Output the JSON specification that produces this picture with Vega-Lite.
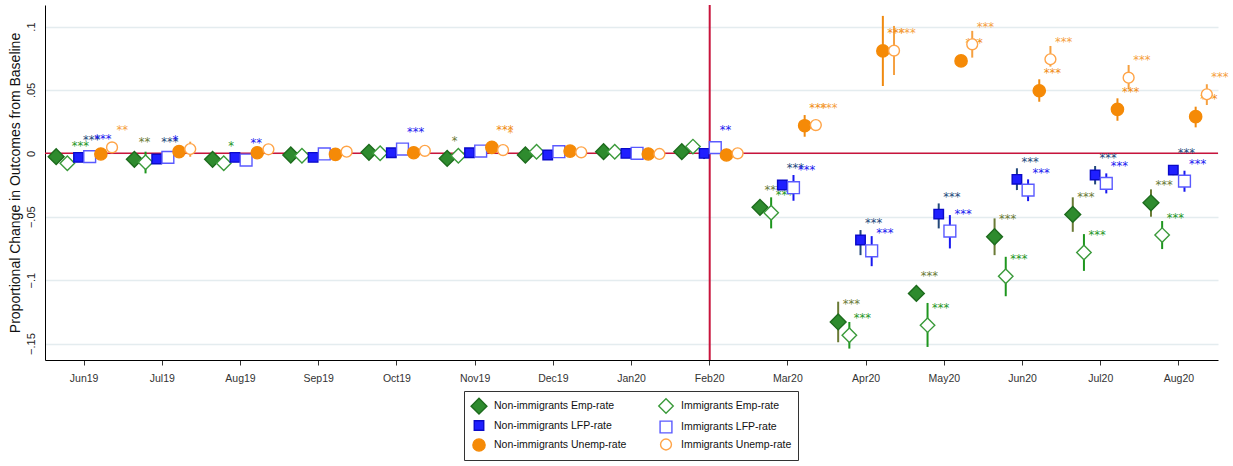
{
  "$schema": "https://vega.github.io/schema/vega-lite/v6.json",
  "width": 1173,
  "height": 355,
  "autosize": {"type": "none"},
  "padding": {"left": 45, "top": 5, "right": 15, "bottom": 106},
  "background": "white",
  "config": {"view": {"stroke": null}, "font": "Liberation Sans"},
  "data": {"name": "est"},
  "datasets": {
    "est": [
      {"m":"Jun19","s":"Non-immigrants Emp-rate","b":-0.0026,"lo":-0.0056,"hi":0.0004,"st":""},
      {"m":"Jun19","s":"Immigrants Emp-rate","b":-0.0079,"lo":-0.0109,"hi":-0.0049,"st":"***"},
      {"m":"Jun19","s":"Non-immigrants LFP-rate","b":-0.0032,"lo":-0.0050,"hi":-0.0014,"st":"***"},
      {"m":"Jun19","s":"Immigrants LFP-rate","b":-0.0026,"lo":-0.0046,"hi":-0.0006,"st":"***"},
      {"m":"Jun19","s":"Non-immigrants Unemp-rate","b":-0.0005,"lo":-0.0035,"hi":0.0025,"st":""},
      {"m":"Jun19","s":"Immigrants Unemp-rate","b":0.0047,"lo":0.0012,"hi":0.0082,"st":"**"},
      {"m":"Jul19","s":"Non-immigrants Emp-rate","b":-0.0047,"lo":-0.0072,"hi":-0.0022,"st":"**"},
      {"m":"Jul19","s":"Immigrants Emp-rate","b":-0.0071,"lo":-0.0158,"hi":0.0013,"st":""},
      {"m":"Jul19","s":"Non-immigrants LFP-rate","b":-0.0045,"lo":-0.0062,"hi":-0.0028,"st":"***"},
      {"m":"Jul19","s":"Immigrants LFP-rate","b":-0.0032,"lo":-0.0060,"hi":-0.0004,"st":"*"},
      {"m":"Jul19","s":"Non-immigrants Unemp-rate","b":0.0013,"lo":-0.0017,"hi":0.0043,"st":""},
      {"m":"Jul19","s":"Immigrants Unemp-rate","b":0.0034,"lo":-0.0027,"hi":0.0092,"st":""},
      {"m":"Aug19","s":"Non-immigrants Emp-rate","b":-0.0047,"lo":-0.0077,"hi":-0.0017,"st":""},
      {"m":"Aug19","s":"Immigrants Emp-rate","b":-0.0079,"lo":-0.0109,"hi":-0.0049,"st":"*"},
      {"m":"Aug19","s":"Non-immigrants LFP-rate","b":-0.0032,"lo":-0.0052,"hi":-0.0012,"st":""},
      {"m":"Aug19","s":"Immigrants LFP-rate","b":-0.0053,"lo":-0.0080,"hi":-0.0026,"st":"**"},
      {"m":"Aug19","s":"Non-immigrants Unemp-rate","b":0.0005,"lo":-0.0025,"hi":0.0035,"st":""},
      {"m":"Aug19","s":"Immigrants Unemp-rate","b":0.0032,"lo":0.0002,"hi":0.0062,"st":""},
      {"m":"Sep19","s":"Non-immigrants Emp-rate","b":-0.0013,"lo":-0.0043,"hi":0.0017,"st":""},
      {"m":"Sep19","s":"Immigrants Emp-rate","b":-0.0019,"lo":-0.0049,"hi":0.0011,"st":""},
      {"m":"Sep19","s":"Non-immigrants LFP-rate","b":-0.0032,"lo":-0.0062,"hi":-0.0002,"st":""},
      {"m":"Sep19","s":"Immigrants LFP-rate","b":-0.0005,"lo":-0.0035,"hi":0.0025,"st":""},
      {"m":"Sep19","s":"Non-immigrants Unemp-rate","b":-0.0008,"lo":-0.0038,"hi":0.0022,"st":""},
      {"m":"Sep19","s":"Immigrants Unemp-rate","b":0.0013,"lo":-0.0017,"hi":0.0043,"st":""},
      {"m":"Oct19","s":"Non-immigrants Emp-rate","b":0.0008,"lo":-0.0022,"hi":0.0038,"st":""},
      {"m":"Oct19","s":"Immigrants Emp-rate","b":0.0,"lo":-0.0030,"hi":0.0030,"st":""},
      {"m":"Oct19","s":"Non-immigrants LFP-rate","b":0.0005,"lo":-0.0025,"hi":0.0035,"st":""},
      {"m":"Oct19","s":"Immigrants LFP-rate","b":0.0034,"lo":0.0014,"hi":0.0054,"st":"***"},
      {"m":"Oct19","s":"Non-immigrants Unemp-rate","b":0.0005,"lo":-0.0025,"hi":0.0035,"st":""},
      {"m":"Oct19","s":"Immigrants Unemp-rate","b":0.0020,"lo":-0.0010,"hi":0.0050,"st":""},
      {"m":"Nov19","s":"Non-immigrants Emp-rate","b":-0.0040,"lo":-0.0075,"hi":-0.0005,"st":"*"},
      {"m":"Nov19","s":"Immigrants Emp-rate","b":-0.0019,"lo":-0.0049,"hi":0.0011,"st":""},
      {"m":"Nov19","s":"Non-immigrants LFP-rate","b":0.0005,"lo":-0.0025,"hi":0.0035,"st":""},
      {"m":"Nov19","s":"Immigrants LFP-rate","b":0.0018,"lo":-0.0012,"hi":0.0048,"st":""},
      {"m":"Nov19","s":"Non-immigrants Unemp-rate","b":0.0047,"lo":0.0027,"hi":0.0067,"st":"***"},
      {"m":"Nov19","s":"Immigrants Unemp-rate","b":0.0026,"lo":0.0001,"hi":0.0051,"st":"*"},
      {"m":"Dec19","s":"Non-immigrants Emp-rate","b":-0.0013,"lo":-0.0043,"hi":0.0017,"st":""},
      {"m":"Dec19","s":"Immigrants Emp-rate","b":0.0013,"lo":-0.0017,"hi":0.0043,"st":""},
      {"m":"Dec19","s":"Non-immigrants LFP-rate","b":-0.0013,"lo":-0.0043,"hi":0.0017,"st":""},
      {"m":"Dec19","s":"Immigrants LFP-rate","b":0.0013,"lo":-0.0017,"hi":0.0043,"st":""},
      {"m":"Dec19","s":"Non-immigrants Unemp-rate","b":0.0018,"lo":-0.0012,"hi":0.0048,"st":""},
      {"m":"Dec19","s":"Immigrants Unemp-rate","b":0.0008,"lo":-0.0022,"hi":0.0038,"st":""},
      {"m":"Jan20","s":"Non-immigrants Emp-rate","b":0.0013,"lo":-0.0017,"hi":0.0043,"st":""},
      {"m":"Jan20","s":"Immigrants Emp-rate","b":0.0013,"lo":-0.0017,"hi":0.0043,"st":""},
      {"m":"Jan20","s":"Non-immigrants LFP-rate","b":0.0,"lo":-0.0030,"hi":0.0030,"st":""},
      {"m":"Jan20","s":"Immigrants LFP-rate","b":0.0,"lo":-0.0030,"hi":0.0030,"st":""},
      {"m":"Jan20","s":"Non-immigrants Unemp-rate","b":-0.0005,"lo":-0.0035,"hi":0.0025,"st":""},
      {"m":"Jan20","s":"Immigrants Unemp-rate","b":-0.0005,"lo":-0.0035,"hi":0.0025,"st":""},
      {"m":"Feb20","s":"Non-immigrants Emp-rate","b":0.0013,"lo":-0.0017,"hi":0.0043,"st":""},
      {"m":"Feb20","s":"Immigrants Emp-rate","b":0.0053,"lo":0.0023,"hi":0.0083,"st":""},
      {"m":"Feb20","s":"Non-immigrants LFP-rate","b":0.0,"lo":-0.0045,"hi":0.0035,"st":""},
      {"m":"Feb20","s":"Immigrants LFP-rate","b":0.0045,"lo":0.0015,"hi":0.0075,"st":"**"},
      {"m":"Feb20","s":"Non-immigrants Unemp-rate","b":-0.0013,"lo":-0.0043,"hi":0.0017,"st":""},
      {"m":"Feb20","s":"Immigrants Unemp-rate","b":0.0,"lo":-0.0030,"hi":0.0030,"st":""},
      {"m":"Mar20","s":"Non-immigrants Emp-rate","b":-0.0426,"lo":-0.0466,"hi":-0.0386,"st":"***"},
      {"m":"Mar20","s":"Immigrants Emp-rate","b":-0.0469,"lo":-0.0592,"hi":-0.0347,"st":"***"},
      {"m":"Mar20","s":"Non-immigrants LFP-rate","b":-0.0250,"lo":-0.0290,"hi":-0.0210,"st":"***"},
      {"m":"Mar20","s":"Immigrants LFP-rate","b":-0.0271,"lo":-0.0374,"hi":-0.0171,"st":"***"},
      {"m":"Mar20","s":"Non-immigrants Unemp-rate","b":0.0218,"lo":0.0131,"hi":0.0302,"st":"***"},
      {"m":"Mar20","s":"Immigrants Unemp-rate","b":0.0223,"lo":0.0183,"hi":0.0263,"st":"***"},
      {"m":"Apr20","s":"Non-immigrants Emp-rate","b":-0.1330,"lo":-0.1490,"hi":-0.1170,"st":"***"},
      {"m":"Apr20","s":"Immigrants Emp-rate","b":-0.1434,"lo":-0.1540,"hi":-0.1330,"st":"***"},
      {"m":"Apr20","s":"Non-immigrants LFP-rate","b":-0.0684,"lo":-0.0803,"hi":-0.0605,"st":"***"},
      {"m":"Apr20","s":"Immigrants LFP-rate","b":-0.0769,"lo":-0.0890,"hi":-0.0653,"st":"***"},
      {"m":"Apr20","s":"Non-immigrants Unemp-rate","b":0.0808,"lo":0.0531,"hi":0.1084,"st":"***"},
      {"m":"Apr20","s":"Immigrants Unemp-rate","b":0.0810,"lo":0.0618,"hi":0.1005,"st":"***"},
      {"m":"May20","s":"Non-immigrants Emp-rate","b":-0.1105,"lo":-0.1165,"hi":-0.1045,"st":"***"},
      {"m":"May20","s":"Immigrants Emp-rate","b":-0.1355,"lo":-0.1527,"hi":-0.1180,"st":"***"},
      {"m":"May20","s":"Non-immigrants LFP-rate","b":-0.0479,"lo":-0.0592,"hi":-0.0395,"st":"***"},
      {"m":"May20","s":"Immigrants LFP-rate","b":-0.0613,"lo":-0.0750,"hi":-0.0487,"st":"***"},
      {"m":"May20","s":"Non-immigrants Unemp-rate","b":0.0729,"lo":0.0689,"hi":0.0769,"st":"***"},
      {"m":"May20","s":"Immigrants Unemp-rate","b":0.0860,"lo":0.0755,"hi":0.0966,"st":"***"},
      {"m":"Jun20","s":"Non-immigrants Emp-rate","b":-0.0658,"lo":-0.0803,"hi":-0.0513,"st":"***"},
      {"m":"Jun20","s":"Immigrants Emp-rate","b":-0.0969,"lo":-0.1127,"hi":-0.0816,"st":"***"},
      {"m":"Jun20","s":"Non-immigrants LFP-rate","b":-0.0205,"lo":-0.0290,"hi":-0.0118,"st":"***"},
      {"m":"Jun20","s":"Immigrants LFP-rate","b":-0.0290,"lo":-0.0377,"hi":-0.0205,"st":"***"},
      {"m":"Jun20","s":"Non-immigrants Unemp-rate","b":0.0494,"lo":0.0407,"hi":0.0584,"st":"***"},
      {"m":"Jun20","s":"Immigrants Unemp-rate","b":0.0742,"lo":0.0684,"hi":0.0847,"st":"***"},
      {"m":"Jul20","s":"Non-immigrants Emp-rate","b":-0.0482,"lo":-0.0619,"hi":-0.0347,"st":"***"},
      {"m":"Jul20","s":"Immigrants Emp-rate","b":-0.0782,"lo":-0.0927,"hi":-0.0637,"st":"***"},
      {"m":"Jul20","s":"Non-immigrants LFP-rate","b":-0.0171,"lo":-0.0245,"hi":-0.0100,"st":"***"},
      {"m":"Jul20","s":"Immigrants LFP-rate","b":-0.0237,"lo":-0.0316,"hi":-0.0158,"st":"***"},
      {"m":"Jul20","s":"Non-immigrants Unemp-rate","b":0.0347,"lo":0.0257,"hi":0.0434,"st":"***"},
      {"m":"Jul20","s":"Immigrants Unemp-rate","b":0.0597,"lo":0.0505,"hi":0.0697,"st":"***"},
      {"m":"Aug20","s":"Non-immigrants Emp-rate","b":-0.0390,"lo":-0.0500,"hi":-0.0284,"st":"***"},
      {"m":"Aug20","s":"Immigrants Emp-rate","b":-0.0645,"lo":-0.0755,"hi":-0.0534,"st":"***"},
      {"m":"Aug20","s":"Non-immigrants LFP-rate","b":-0.0132,"lo":-0.0172,"hi":-0.0092,"st":"***"},
      {"m":"Aug20","s":"Immigrants LFP-rate","b":-0.0219,"lo":-0.0303,"hi":-0.0137,"st":"***"},
      {"m":"Aug20","s":"Non-immigrants Unemp-rate","b":0.0289,"lo":0.0205,"hi":0.0368,"st":"***"},
      {"m":"Aug20","s":"Immigrants Unemp-rate","b":0.0466,"lo":0.0381,"hi":0.0545,"st":"***"}
    ]
  },
  "layer": [
    {
      "data": {"values": [{"ref": 0}]},
      "mark": {"type": "rule", "color": "#C8143C", "strokeWidth": 1.5},
      "encoding": {
        "y": {"field": "ref", "type": "quantitative",
          "scale": {"domain": [-0.163, 0.117], "nice": false, "zero": false},
          "axis": {"title": "Proportional Change in Outcomes from Baseline", "values": [-0.15, -0.1, -0.05, 0, 0.05, 0.1],
            "labelExpr": "datum.value == 0 ? '0' : replace(format(datum.value, '.2~f'), '0.', '.')",
            "labelAngle": -90, "labelAlign": "center", "labelBaseline": "middle", "labelPadding": 14,
            "ticks": false, "tickSize": 0, "grid": true, "gridColor": "#E4ECEF", "gridWidth": 1.5,
            "domainColor": "#000000", "domainWidth": 1, "labelFont": "Liberation Sans", "labelFontSize": 11, "labelColor": "#222222",
            "titleFont": "Liberation Sans", "titleFontSize": 14, "titleFontWeight": "normal", "titleColor": "#111111",
            "titleAngle": 270, "titleX": -30, "titleY": 177.5, "titleBaseline": "middle", "titleAlign": "center"}}
      }
    },
    {
      "data": {"values": [{"m": "Feb20"}]},
      "mark": {"type": "rule", "color": "#C8143C", "strokeWidth": 2},
      "encoding": {
        "x": {"field": "m", "type": "nominal",
          "scale": {"type": "band", "domain": ["Jun19","Jul19","Aug19","Sep19","Oct19","Nov19","Dec19","Jan20","Feb20","Mar20","Apr20","May20","Jun20","Jul20","Aug20"], "paddingInner": 0, "paddingOuter": 0},
          "axis": {"title": null, "labelAngle": 0, "labelFont": "Liberation Sans", "labelFontSize": 10.5, "labelFontWeight": "normal", "labelColor": "#333333",
            "tickColor": "#333333", "tickSize": 5, "tickWidth": 1, "domainColor": "#000000", "labelPadding": 8, "grid": false}}
      }
    },
    {
      "mark": {"type": "rule", "strokeWidth": 2},
      "encoding": {
        "x": {"field": "m", "type": "nominal",
          "scale": {"type": "band", "domain": ["Jun19","Jul19","Aug19","Sep19","Oct19","Nov19","Dec19","Jan20","Feb20","Mar20","Apr20","May20","Jun20","Jul20","Aug20"], "paddingInner": 0, "paddingOuter": 0}},
        "xOffset": {"field": "s", "type": "nominal",
          "scale": {"type": "point", "padding": 1, "domain": ["Non-immigrants Emp-rate","Immigrants Emp-rate","Non-immigrants LFP-rate","Immigrants LFP-rate","Non-immigrants Unemp-rate","Immigrants Unemp-rate"]}},
        "y": {"field": "lo", "type": "quantitative", "scale": {"domain": [-0.163, 0.117], "nice": false, "zero": false}},
        "y2": {"field": "hi"},
        "color": {"field": "s", "type": "nominal", "legend": null,
          "scale": {"domain": ["Immigrants Unemp-rate","Non-immigrants Unemp-rate","Immigrants LFP-rate","Non-immigrants LFP-rate","Immigrants Emp-rate","Non-immigrants Emp-rate"],
            "range": ["#F5A040", "#F08A10", "#1818F0", "#23487A", "#1E961E", "#6A7A35"]}}
      }
    },
    {
      "transform": [{"filter": "datum.st != ''"}],
      "mark": {"type": "text", "align": "left", "baseline": "alphabetic", "dx": 4.5, "dy": -13.5, "font": "DejaVu Sans", "fontSize": 11.5},
      "encoding": {
        "x": {"field": "m", "type": "nominal"},
        "xOffset": {"field": "s", "type": "nominal"},
        "y": {"field": "b", "type": "quantitative"},
        "text": {"field": "st"},
        "color": {"field": "s", "type": "nominal", "legend": null}
      }
    },
    {
      "mark": {"type": "point", "filled": true, "opacity": 1, "strokeWidth": 1.4},
      "encoding": {
        "x": {"field": "m", "type": "nominal"},
        "xOffset": {"field": "s", "type": "nominal"},
        "y": {"field": "b", "type": "quantitative"},
        "fill": {"field": "s", "type": "nominal",
          "scale": {"domain": ["Non-immigrants Emp-rate","Immigrants Emp-rate","Non-immigrants LFP-rate","Immigrants LFP-rate","Non-immigrants Unemp-rate","Immigrants Unemp-rate"],
            "range": ["#2E8B2E", "#FFFFFF", "#1F1FFF", "#FFFFFF", "#F58A07", "#FFFFFF"]},
          "legend": {"orient": "none", "legendX": 419, "legendY": 386, "columns": 2, "direction": "horizontal", "title": null, "strokeColor": "#333333", "fillColor": "#FFFFFF",
            "padding": 6, "columnPadding": 28, "rowPadding": 0, "labelFont": "Liberation Sans", "labelFontSize": 10.5, "labelColor": "#111111",
            "labelOffset": 6, "symbolStrokeWidth": 1.4, "symbolOpacity": 1,
            "labelExpr": "indexof(datum.label, 'Non') == 0 ? datum.label : datum.label + '\u00a0\u00a0\u00a0\u00a0\u00a0'"}},
        "stroke": {"field": "s", "type": "nominal",
          "scale": {"domain": ["Non-immigrants Emp-rate","Immigrants Emp-rate","Non-immigrants LFP-rate","Immigrants LFP-rate","Non-immigrants Unemp-rate","Immigrants Unemp-rate"],
            "range": ["#1D6B1D", "#3A9A3A", "#0A0AC8", "#5A5AFF", "#F58A07", "#FFA447"]}},
        "shape": {"field": "s", "type": "nominal",
          "scale": {"domain": ["Non-immigrants Emp-rate","Immigrants Emp-rate","Non-immigrants LFP-rate","Immigrants LFP-rate","Non-immigrants Unemp-rate","Immigrants Unemp-rate"],
            "range": ["diamond", "diamond", "square", "square", "circle", "circle"]}},
        "size": {"field": "s", "type": "nominal",
          "scale": {"type": "ordinal", "domain": ["Non-immigrants Emp-rate","Immigrants Emp-rate","Non-immigrants LFP-rate","Immigrants LFP-rate","Non-immigrants Unemp-rate","Immigrants Unemp-rate"],
            "range": [250, 210, 90, 140, 150, 118]}}
      }
    }
  ]
}
